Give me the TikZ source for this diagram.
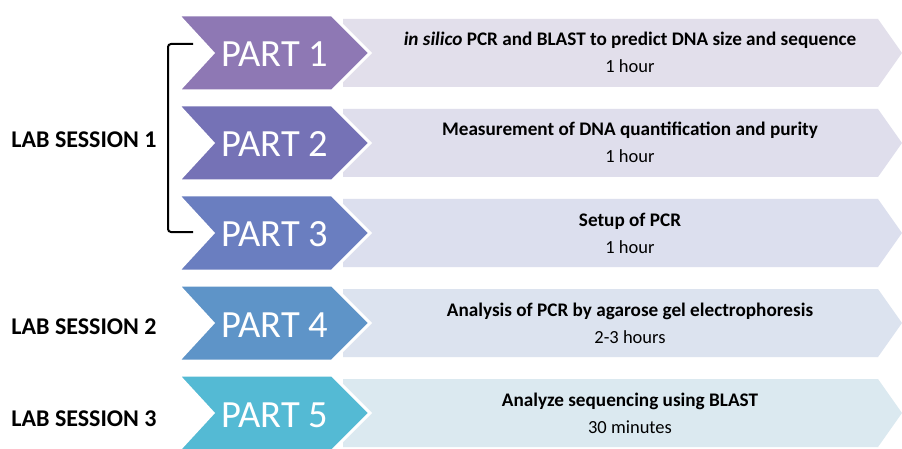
\documentclass[tikz,border=0pt]{standalone}
\usepackage{fontspec}
\setmainfont{Carlito}
\definecolor{cA}{HTML}{8E78B4}
\definecolor{cB}{HTML}{7572B6}
\definecolor{cC}{HTML}{6A7EC0}
\definecolor{cD}{HTML}{5E94C8}
\definecolor{cE}{HTML}{54BAD4}
\definecolor{bA}{HTML}{E2DFEB}
\definecolor{bB}{HTML}{DFDEEC}
\definecolor{bC}{HTML}{DCDFEE}
\definecolor{bD}{HTML}{DCE3EF}
\definecolor{bE}{HTML}{DBE9F0}
\newcommand\partrow[7]{%
  % #1 centre y, #2 chevron colour, #3 band colour, #4 name, #5 part text, #6 title, #7 duration
  \fill[#3] (343,#1-34) -- (878,#1-34) -- (902,#1) -- (878,#1+34) -- (343,#1+34) -- cycle;
  \filldraw[fill=#2,draw=white,line width=3pt,line join=miter]
    (178,#1-38) -- (332,#1-38) -- (370,#1) -- (332,#1+38) -- (178,#1+38) -- (213,#1) -- cycle;
  \node[parttext] (#4p) at (275,#1+14) {#5};
  \node[titletext] (#4t) at (630,#1-7) {#6};
  \node[durtext] (#4d) at (630,#1+20) {#7};
}
\begin{document}
\begin{tikzpicture}[x=1pt,y=-1pt,
  parttext/.style={text=white,anchor=base,inner sep=0pt,font=\fontsize{38.5}{40}\selectfont},
  titletext/.style={text=black,anchor=base,inner sep=0pt,font=\bfseries\fontsize{19.2}{21}\selectfont},
  durtext/.style={text=black,anchor=base,inner sep=0pt,font=\fontsize{18.5}{20}\selectfont},
  labtext/.style={text=black,anchor=base,inner sep=0pt,font=\bfseries\fontsize{24}{26}\selectfont},
  bracket/.style={draw=black,line width=2pt,rounded corners=3pt}]
\useasboundingbox (0,0) rectangle (902,449);
\fill[white] (0,0) rectangle (902,449);
\partrow{53}{cA}{bA}{r1}{PART 1}{\textit{in silico} PCR and BLAST to predict DNA size and sequence}{1 hour}
\partrow{143}{cB}{bB}{r2}{PART 2}{Measurement of DNA quantification and purity}{1 hour}
\partrow{233}{cC}{bC}{r3}{PART 3}{Setup of PCR}{1 hour}
\partrow{323}{cD}{bD}{r4}{PART 4}{Analysis of PCR by agarose gel electrophoresis}{2-3 hours}
\partrow{413}{cE}{bE}{r5}{PART 5}{Analyze sequencing using BLAST}{30 minutes}
\node[labtext] (ls1) at (84,148) {LAB SESSION 1};
\node[labtext] (ls2) at (84,334) {LAB SESSION 2};
\node[labtext] (ls3) at (84,426) {LAB SESSION 3};
\coordinate (bt) at (193,44);
\coordinate (bb) at (193,232);
\draw[bracket] (bt) -- (168,44) -- (168,232) -- (bb);
\end{tikzpicture}
\end{document}
